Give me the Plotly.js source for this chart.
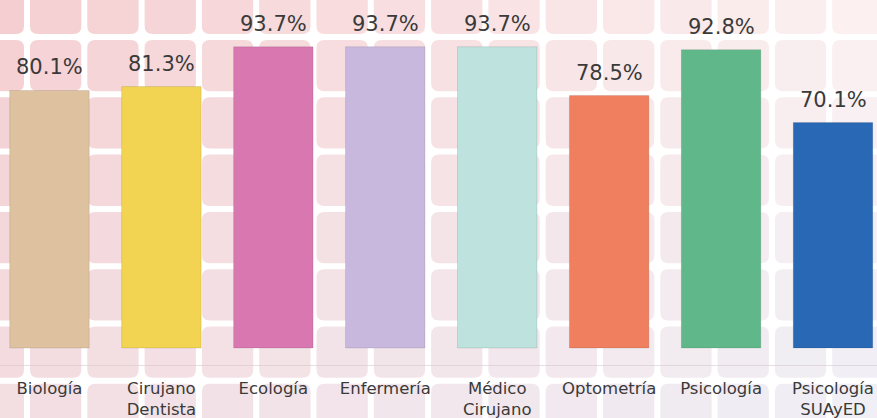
<!DOCTYPE html>
<html>
<head>
<meta charset="utf-8">
<script src="https://cdn.plot.ly/plotly-3.0.1.min.js"></script>
<style>html,body{margin:0;padding:0;background:#fff;}#chart{width:877px;height:418px;}</style>
</head>
<body>
<div id="chart"></div>
<script>
// ---- data ----
const categories = ["Biología", "Cirujano<br>Dentista", "Ecología", "Enfermería", "Médico<br>Cirujano", "Optometría", "Psicología", "Psicología<br>SUAyED"];
const values = [80.1, 81.3, 93.7, 93.7, 93.7, 78.5, 92.8, 70.1];
const valueLabels = ["80.1%", "81.3%", "93.7%", "93.7%", "93.7%", "78.5%", "92.8%", "70.1%"];
const barColors = ["#dec2a0", "#f2d452", "#d877b0", "#c8b8de", "#bee2de", "#ef7f5f", "#60b88a", "#2868b4"];

// ---- background tiles (decorative) ----
const W = 877, H = 418, plotH = 365;
const period = 57.3, gap = 6, rad = 8;
const x0 = 27, y0 = 37;
function lerp(a, b, t) { return a + (b - a) * t; }
function tileColor(cx, cy) {
  const t = Math.min(Math.max(cx / W, 0), 1), s = Math.min(Math.max(cy / H, 0), 1);
  const TL = [245, 206, 209], TR = [252, 241, 241], BL = [243, 222, 226], BR = [239, 239, 246];
  const c = [0, 1, 2].map(i => Math.round(lerp(lerp(TL[i], TR[i], t), lerp(BL[i], BR[i], t), s)));
  return "rgb(" + c.join(",") + ")";
}
const px = x => (x / W).toFixed(5);
const py = y => (1 - y / plotH).toFixed(5);
const shapes = [];
for (let i = -1; i < 16; i++) {
  for (let j = -1; j < 8; j++) {
    const L = x0 + i * period + gap / 2, R = x0 + (i + 1) * period - gap / 2;
    const T = y0 + j * period + gap / 2, B = y0 + (j + 1) * period - gap / 2;
    if (R < 0 || L > W || B < 0 || T > H) continue;
    const p = "M" + px(L + rad) + "," + py(T) +
      " L" + px(R - rad) + "," + py(T) +
      " Q" + px(R) + "," + py(T) + " " + px(R) + "," + py(T + rad) +
      " L" + px(R) + "," + py(B - rad) +
      " Q" + px(R) + "," + py(B) + " " + px(R - rad) + "," + py(B) +
      " L" + px(L + rad) + "," + py(B) +
      " Q" + px(L) + "," + py(B) + " " + px(L) + "," + py(B - rad) +
      " L" + px(L) + "," + py(T + rad) +
      " Q" + px(L) + "," + py(T) + " " + px(L + rad) + "," + py(T) + " Z";
    shapes.push({type: "path", xref: "paper", yref: "paper", path: p, layer: "below",
      fillcolor: tileColor((L + R) / 2, (T + B) / 2), line: {width: 0}});
  }
}

const trace = {
  type: "bar",
  x: categories,
  y: values,
  marker: {color: barColors, line: {color: "rgba(0,0,0,0.10)", width: 1}},
  hoverinfo: "skip"
};

const annotations = categories.map((c, i) => ({
  x: c, y: values[i], xref: "x", yref: "y",
  text: valueLabels[i], showarrow: false,
  yanchor: "bottom", yshift: 9,
  font: {family: "DejaVu Sans", size: 21, color: "#3a3a3a"}
}));

const layout = {
  width: 877, height: 418,
  margin: {l: 0, r: 0, t: 0, b: 53},
  paper_bgcolor: "#ffffff",
  plot_bgcolor: "rgba(0,0,0,0)",
  showlegend: false,
  bargap: 0.29,
  xaxis: {
    type: "category",
    range: [-0.442, 7.393],
    showgrid: false, zeroline: false,
    showline: true, linecolor: "rgba(215,200,205,0.6)", linewidth: 1,
    ticks: "",
    ticklabelstandoff: 8,
    tickfont: {family: "DejaVu Sans", size: 16.5, color: "#3a3a3a"},
    fixedrange: true
  },
  yaxis: {
    range: [-5.29, 108.24],
    showgrid: false, zeroline: false, showticklabels: false, showline: false,
    fixedrange: true
  },
  shapes: shapes,
  annotations: annotations
};

Plotly.newPlot("chart", [trace], layout, {displayModeBar: false, staticPlot: true});
</script>
</body>
</html>
